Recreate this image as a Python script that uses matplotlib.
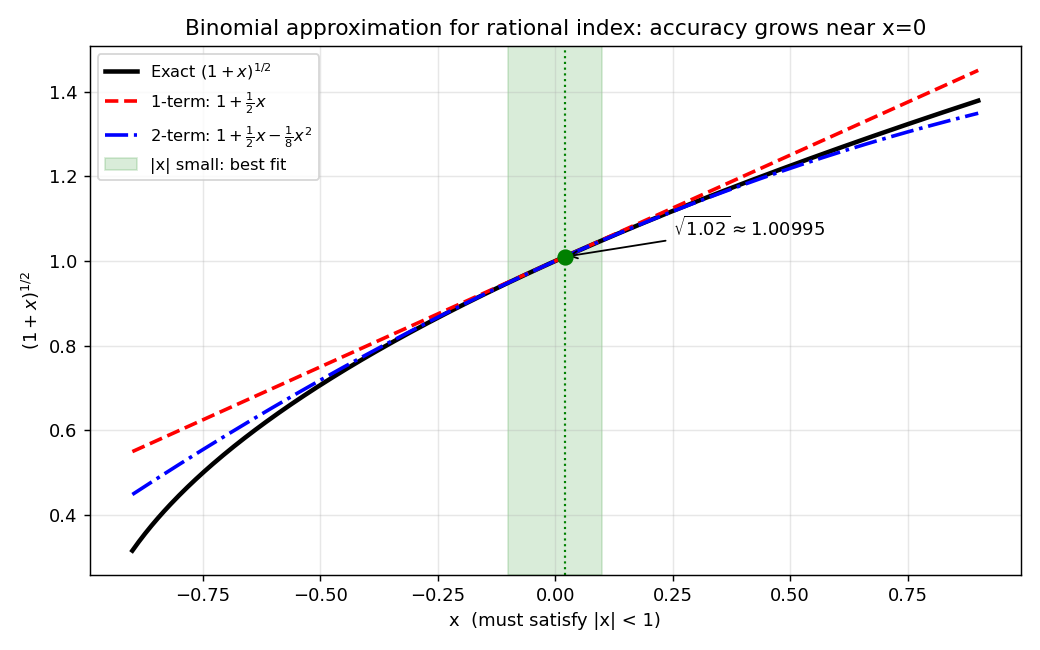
import numpy as np
import matplotlib.pyplot as plt

# series shown: (1+x)^n and its first binomial terms
n_index = 0.5
x_min, x_max = -0.9, 0.9
n_pts = 400
band = [-0.1, 0.1]
x0 = 0.02
y0 = 1.00995
label_xy = [0.25, 1.06]

x = np.linspace(x_min, x_max, n_pts)
exact = (1 + x) ** n_index
one_term = 1 + n_index * x
two_term = 1 + n_index * x + n_index * (n_index - 1) / 2 * x**2

fig, ax = plt.subplots(figsize=(8, 5), dpi=130)

ax.plot(x, exact, 'k-', lw=2.5, label=r'Exact $(1+x)^{1/2}$')
ax.plot(x, one_term, 'r--', lw=2, label=r'1-term: $1+\frac{1}{2}x$')
ax.plot(x, two_term, 'b-.', lw=2, label=r'2-term: $1+\frac{1}{2}x-\frac{1}{8}x^2$')
ax.axvspan(band[0], band[1], color='green', alpha=0.15, label='|x| small: best fit')
ax.axvline(x0, color='green', ls=':', lw=1.2)
ax.plot(x0, y0, 'o', color='green', markersize=8, zorder=5)

ax.annotate(r'$\sqrt{1.02}\approx 1.00995$', xy=(x0, y0), xytext=label_xy,
            fontsize=10, arrowprops=dict(arrowstyle='->', color='black', lw=1))

ax.set_xlabel('x  (must satisfy |x| < 1)', fontsize=10)
ax.set_ylabel(r'$(1+x)^{1/2}$', fontsize=10)
ax.set_title('Binomial approximation for rational index: accuracy grows near x=0', fontsize=12)
ax.grid(True, alpha=0.3)
ax.legend(loc='upper left', fontsize=9)

plt.tight_layout()
plt.savefig('out.png')
